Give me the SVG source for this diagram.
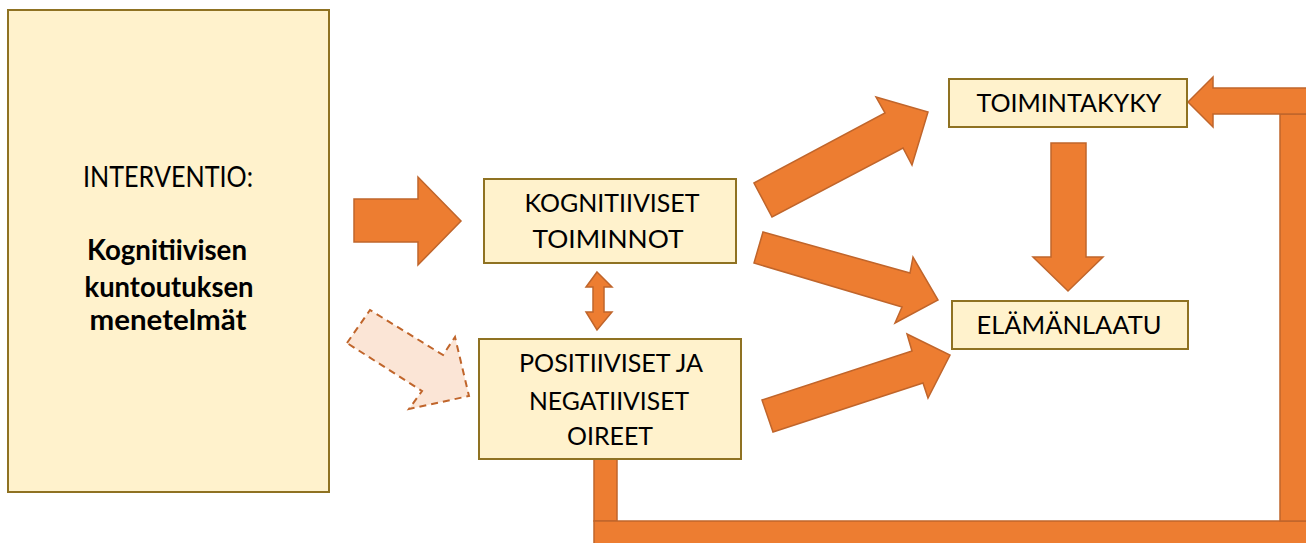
<svg xmlns="http://www.w3.org/2000/svg" width="1306" height="543" viewBox="0 0 1306 543">
<style>
.box{fill:#FFF2CC;stroke:#8F7222;stroke-width:2}
.arr{fill:#ED7D31;stroke:#C0652B;stroke-width:1.5;stroke-linejoin:miter}
.dash{fill:#FBE5D6;stroke:#C0652B;stroke-width:2;stroke-dasharray:7 5}
text{font-family:"Lato","Open Sans","Liberation Sans",sans-serif;fill:#000;text-anchor:middle}
.t{font-size:25px}
.tl{font-size:28px}
.b{font-size:28px;font-weight:bold}
</style>
<rect width="1306" height="543" fill="#fff"/>
<g id="connectors">
  <polygon class="arr" points="354,199 418,199 418,177 461,221 418,265 418,242 354,242"/>
  <polygon class="dash" points="347,343 370,310 443,355 455,337 469,396 409,409 422,391"/>
  <polygon class="arr" points="597,272 612,287 604,287 604,312 612,312 597,330 586,312 593,312 593,287 586,287"/>
  <polygon class="arr" points="754,183 885,113 876,97 928,112 912,165 903,148 772,217"/>
  <polygon class="arr" points="763,232 910,273 913,257 938,300 895,323 902,307 754,263"/>
  <polygon class="arr" points="762,400 912,351 907,334 950,355 928,398 923,383 773,432"/>
  <polygon class="arr" points="1051,143 1086,143 1086,257 1103,257 1068,291 1033,257 1051,257"/>
  <rect class="arr" x="594" y="458" width="23" height="63"/>
  <rect class="arr" x="594" y="521" width="714" height="24"/>
  <rect class="arr" x="1280" y="114" width="28" height="407"/>
  <polygon class="arr" points="1188,102 1213,77 1213,88 1308,88 1308,114 1213,114 1213,127"/>
</g>
<g id="n-intervention">
  <rect class="box" x="8" y="10" width="321" height="482"/>
  <text class="tl" x="168" y="187" textLength="170" lengthAdjust="spacingAndGlyphs">INTERVENTIO:</text>
  <text class="b" x="167" y="260" textLength="160" lengthAdjust="spacingAndGlyphs">Kognitiivisen</text>
  <text class="b" x="169" y="297" textLength="169" lengthAdjust="spacingAndGlyphs">kuntoutuksen</text>
  <text class="b" x="168" y="330" textLength="157" lengthAdjust="spacingAndGlyphs">menetelmät</text>
</g>
<g id="n-kognitiiviset">
  <rect class="box" x="484" y="179" width="252" height="84"/>
  <text class="t" x="612" y="212" textLength="175" lengthAdjust="spacingAndGlyphs">KOGNITIIVISET</text>
  <text class="t" x="608" y="248" textLength="151" lengthAdjust="spacingAndGlyphs">TOIMINNOT</text>
</g>
<g id="n-oireet">
  <rect class="box" x="479" y="339" width="262" height="120"/>
  <text class="t" x="611" y="372" textLength="184" lengthAdjust="spacingAndGlyphs">POSITIIVISET JA</text>
  <text class="t" x="609" y="410" textLength="160" lengthAdjust="spacingAndGlyphs">NEGATIIVISET</text>
  <text class="t" x="610" y="445" textLength="86" lengthAdjust="spacingAndGlyphs">OIREET</text>
</g>
<g id="n-toimintakyky">
  <rect class="box" x="949" y="79" width="238" height="48"/>
  <text class="t" x="1069" y="112" textLength="185" lengthAdjust="spacingAndGlyphs">TOIMINTAKYKY</text>
</g>
<g id="n-elamanlaatu">
  <rect class="box" x="952" y="301" width="236" height="48"/>
  <text class="t" x="1069" y="334" textLength="185" lengthAdjust="spacingAndGlyphs">ELÄMÄNLAATU</text>
</g>
</svg>
